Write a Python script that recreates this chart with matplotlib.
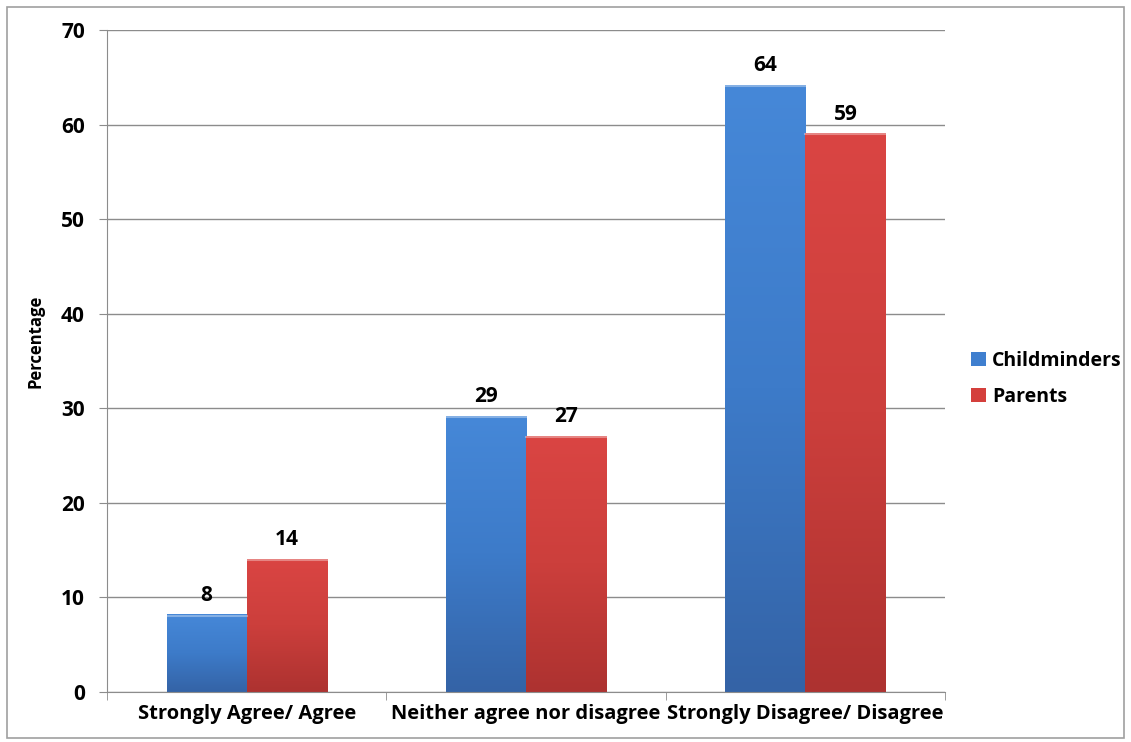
import numpy as np
import matplotlib.pyplot as plt
from matplotlib.colors import LinearSegmentedColormap

plt.rcParams['font.family'] = ['Open Sans', 'DejaVu Sans']
plt.rcParams['font.weight'] = 'bold'

categories = ["Strongly Agree/ Agree", "Neither agree nor disagree", "Strongly Disagree/ Disagree"]
childminders = [8.2, 29.2, 64.2]
parents = [14.1, 27.1, 59.1]
child_labels = ["8", "29", "64"]
parent_labels = ["14", "27", "59"]

fig = plt.figure(figsize=(11.31, 7.42), dpi=100)
ax = fig.add_axes([0.0946, 0.0674, 0.741, 0.8922])

x = np.arange(len(categories))
w = 0.2867
b1 = ax.bar(x - w / 2, childminders, w, color="#3f7fcf", zorder=2, label="Childminders")
b2 = ax.bar(x + w / 2, parents, w, color="#d43f3c", zorder=2, label="Parents")

# vertical gradient on each bar
grad = np.linspace(0, 1, 256).reshape(-1, 1)
cm_blue = LinearSegmentedColormap.from_list("b", ["#3463a6", "#3d7bc9", "#4688d8"])
cm_red = LinearSegmentedColormap.from_list("r", ["#ad3230", "#cc3f3c", "#da4543"])
for bars, cmap in ((b1, cm_blue), (b2, cm_red)):
    for p in bars:
        x0, h, bw = p.get_x(), p.get_height(), p.get_width()
        im = ax.imshow(grad, cmap=cmap, aspect="auto", origin="lower",
                       extent=(x0, x0 + bw, 0, h), zorder=2.5)
        im.set_clip_path(p)
        ax.plot([x0, x0 + bw], [h - 0.15, h - 0.15], color="white", alpha=0.35, lw=1.5, zorder=3)

for p, t in zip(b1, child_labels):
    ax.text(p.get_x() + p.get_width() / 2, p.get_height() + 0.9, t, ha="center", va="bottom",
            fontsize=15, fontweight="bold")
for p, t in zip(b2, parent_labels):
    ax.text(p.get_x() + p.get_width() / 2, p.get_height() + 0.9, t, ha="center", va="bottom",
            fontsize=15, fontweight="bold")

ax.set_xlim(-0.5, 2.5)
ax.set_ylim(0, 70)
ax.set_yticks(np.arange(0, 71, 10))
ax.yaxis.grid(True, color="#8c8c8c", lw=1, zorder=0)
ax.set_axisbelow(True)
ax.set_xticks(x)
ax.set_xticklabels(categories, fontsize=14.5, fontweight="bold")
ax.set_xticks([-0.5, 0.5, 1.5, 2.5], minor=True)
ax.tick_params(axis="x", which="major", length=0, pad=9)
ax.tick_params(axis="x", which="minor", length=6, color="#8c8c8c")
ax.tick_params(axis="y", length=6, color="#8c8c8c", labelsize=15, pad=10)
for lab in ax.get_yticklabels():
    lab.set_fontweight("bold")
for s in ("top", "right"):
    ax.spines[s].set_visible(False)
for s in ("left", "bottom"):
    ax.spines[s].set_color("#8c8c8c")

ax.set_ylabel("Percentage", fontsize=12, fontweight="bold")
ax.yaxis.set_label_coords(-0.074, 0.53)

ax.legend(loc="center left", bbox_to_anchor=(1.01, 0.473), frameon=False,
          handlelength=0.75, handleheight=0.75, handletextpad=0.35, labelspacing=0.8,
          prop={"weight": "bold", "size": 14})

fig.patches.append(plt.Rectangle((0.006, 0.006), 0.988, 0.985, transform=fig.transFigure,
                                 fill=False, edgecolor="#a0a0a0", lw=1.2))

fig.savefig("out.png", dpi=100)
